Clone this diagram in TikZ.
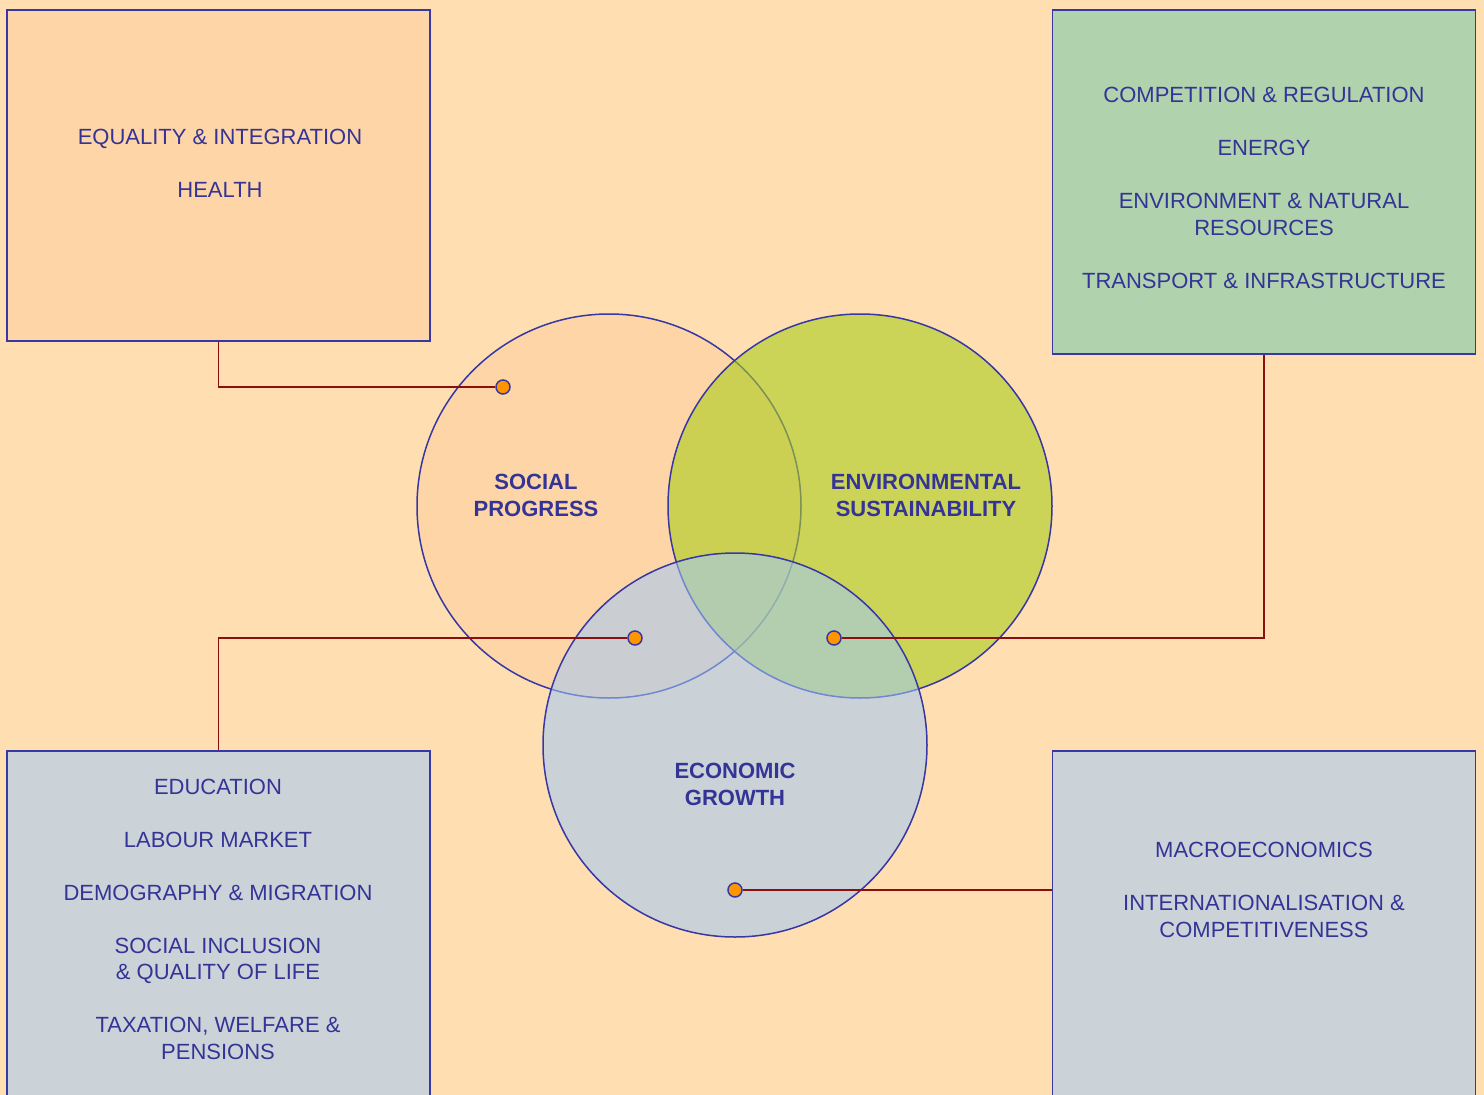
\documentclass[tikz,border=0pt]{standalone}
\usepackage{fontspec}
\setmainfont{Liberation Sans}
\definecolor{bg}{RGB}{255,223,177}
\definecolor{peachbox}{RGB}{254,213,166}
\definecolor{greenbox}{RGB}{176,210,173}
\definecolor{graybox}{RGB}{203,211,216}
\definecolor{socfill}{RGB}{254,213,166}
\definecolor{envfill}{RGB}{170,205,29}
\definecolor{econfill}{RGB}{160,201,248}
\definecolor{ink}{RGB}{52,52,150}
\definecolor{edge}{RGB}{55,55,165}
\definecolor{link}{RGB}{140,15,15}
\definecolor{dotfill}{RGB}{255,150,0}
\begin{document}
\begin{tikzpicture}[x=1pt,y=-1pt,
  box/.style={draw=edge,line width=1.6pt,inner sep=0pt,minimum width=423pt},
  ring/.style={circle,inner sep=0pt,minimum size=384pt},
  lbl/.style={text=ink,align=center,anchor=base,font=\fontsize{22}{26.5}\selectfont,inner sep=0pt},
  blbl/.style={lbl,font=\fontsize{22}{26.5}\selectfont\bfseries},
  linkline/.style={draw=link,line width=1.6pt},
  dot/.style={circle,fill=dotfill,draw=edge,line width=1.5pt,inner sep=0pt,minimum size=14pt}]
\fill[bg] (0,0) rectangle (1484,1095);
\useasboundingbox (0,0) rectangle (1484,1095);
% boxes
\node[box,fill=peachbox,minimum height=331pt] (tl) at (218.5,175.5) {};
\node[box,fill=greenbox,minimum height=344pt] (tr) at (1264,182) {};
\node[box,fill=graybox,minimum height=369pt] (bl) at (218.5,935.5) {};
\node[box,fill=graybox,minimum height=369pt] (br) at (1264,935.5) {};
% circles
\node[ring,fill=socfill,draw=edge,line width=1.5pt] (soc) at (609,506) {};
\node[ring,fill=envfill,fill opacity=0.6,draw=edge,line width=1.5pt] (env) at (860,506) {};
\node[ring,fill=econfill,fill opacity=0.55,draw=edge,line width=1.5pt] (eco) at (735,745) {};
% circle labels
\node[blbl] (socl) at (536,516) {SOCIAL\\PROGRESS};
\node[blbl] (envl) at (926,516) {ENVIRONMENTAL\\SUSTAINABILITY};
\node[blbl] (ecol) at (735,805) {ECONOMIC\\GROWTH};
% box texts
\node[lbl] (tlt) at (220,197) {EQUALITY \& INTEGRATION\\[26.5pt]HEALTH};
\node[lbl] (trt) at (1264,288) {COMPETITION \& REGULATION\\[26.5pt]ENERGY\\[26.5pt]ENVIRONMENT \& NATURAL\\RESOURCES\\[26.5pt]TRANSPORT \& INFRASTRUCTURE};
\node[lbl] (blt) at (218,1059) {EDUCATION\\[26.5pt]LABOUR MARKET\\[26.5pt]DEMOGRAPHY \& MIGRATION\\[26.5pt]SOCIAL INCLUSION\\\& QUALITY OF LIFE\\[26.5pt]TAXATION, WELFARE \&\\PENSIONS};
\node[lbl] (brt) at (1264,937) {MACROECONOMICS\\[26.5pt]INTERNATIONALISATION \&\\COMPETITIVENESS};
% dots
\node[dot] (d1) at (503,387) {};
\node[dot] (d2) at (834,638) {};
\node[dot] (d3) at (635,638) {};
\node[dot] (d4) at (735,890) {};
% connectors
\draw[linkline] (tl.south) |- (d1);
\draw[linkline] (tr.south) |- (d2);
\draw[linkline] (bl.north) |- (d3);
\draw[linkline] (d4) -- (d4 -| br.west);
\end{tikzpicture}
\end{document}
